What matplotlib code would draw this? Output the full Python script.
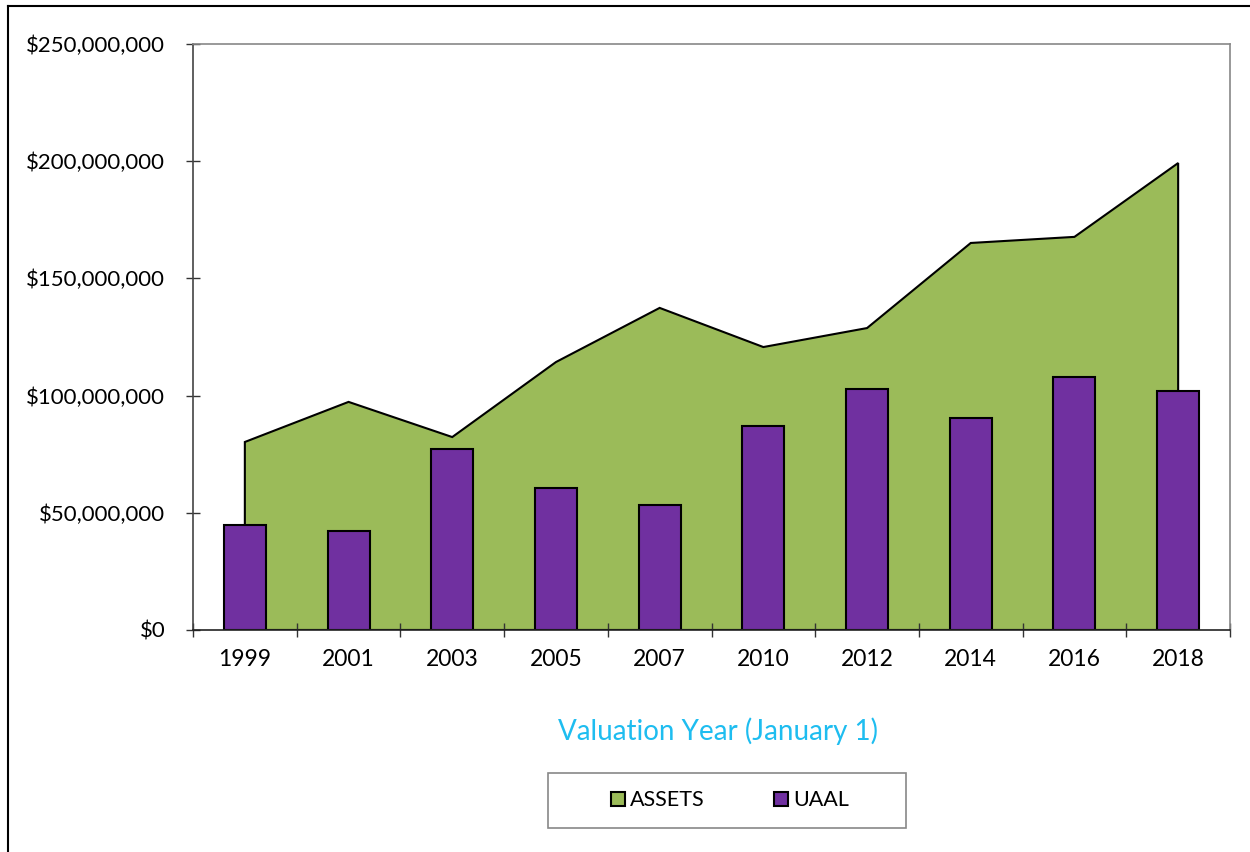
import numpy as np
import matplotlib.pyplot as plt
from matplotlib.lines import Line2D
from matplotlib.patches import Patch, Rectangle
from matplotlib.ticker import FuncFormatter, MultipleLocator

plt.rcParams['font.family'] = ['Lato', 'DejaVu Sans']

years = ['1999', '2001', '2003', '2005', '2007', '2010', '2012', '2014', '2016', '2018']
assets = [80.2, 97.3, 82.3, 114.3, 137.4, 120.7, 128.8, 165.1, 167.7, 199.2]   # $M
uaal = [44.8, 42.2, 77.2, 60.6, 53.3, 87.0, 102.8, 90.4, 107.9, 102.0]         # $M

green = '#9BBB59'
purple = '#7030A0'

fig = plt.figure(figsize=(12.5, 8.52), dpi=100)
ax = fig.add_axes([0.1544, 0.2606, 0.8296, 0.6878])

x = np.arange(len(years))
a = np.array(assets) * 1e6
u = np.array(uaal) * 1e6

# area as a polygon so the edge runs down at both ends
px = np.concatenate([[x[0]], x, [x[-1]]])
py = np.concatenate([[0], a, [0]])
ax.fill(px, py, facecolor=green, edgecolor='black', linewidth=1.5, zorder=1)
ax.bar(x, u, width=0.405, color=purple, edgecolor='black', linewidth=1.5, zorder=2)

ax.set_xlim(-0.5, len(years) - 0.5)
ax.set_ylim(0, 250e6)
ax.yaxis.set_major_locator(MultipleLocator(50e6))
ax.yaxis.set_major_formatter(FuncFormatter(lambda v, p: f'${v:,.0f}'))

ax.set_xticks(np.arange(-0.5, len(years), 1))
ax.set_xticklabels([])
ax.set_xticks(x, minor=True)
ax.set_xticklabels(years, minor=True)
ax.tick_params(axis='x', which='minor', length=0, pad=14, labelsize=16.5)
ax.tick_params(axis='x', which='major', direction='inout', length=10, width=1, color='#333333')
ax.tick_params(axis='y', direction='inout', length=10, width=1, color='#333333', pad=15, labelsize=16)

for s in ['top', 'right']:
    ax.spines[s].set_color('#888888')
    ax.spines[s].set_linewidth(1.2)
ax.spines['left'].set_color('#444444')
ax.spines['bottom'].set_color('#222222')
ax.spines['left'].set_linewidth(1.2)
ax.spines['bottom'].set_linewidth(1.2)

fig.text(0.574, 0.142, 'Valuation Year (January 1)', color='#1EBDF0', fontsize=20,
         ha='center', va='center')

# legend box drawn by hand to match its wide shape
fig.add_artist(Rectangle((548 / 1250, 1 - 828 / 852), 358 / 1250, 55 / 852, transform=fig.transFigure,
                         facecolor='white', edgecolor='#888888', linewidth=1.2))
handles = [Patch(facecolor=green, edgecolor='black', linewidth=1.5, label='ASSETS'),
           Patch(facecolor=purple, edgecolor='black', linewidth=1.5, label='UAAL')]
leg = fig.legend(handles=handles, loc='center', bbox_to_anchor=(0.584, 0.0605), ncol=2,
                 frameon=False, fontsize=15.5, handlelength=0.65, handleheight=0.65,
                 handletextpad=0.25, columnspacing=3.2, borderaxespad=0)

# outer border (left and top edges visible)
fig.add_artist(Line2D([0.0064, 0.0064], [0, 0.993], transform=fig.transFigure, color='black', lw=1.5))
fig.add_artist(Line2D([0.0064, 1.0], [0.993, 0.993], transform=fig.transFigure, color='black', lw=1.5))

fig.savefig('out.png', dpi=100)
